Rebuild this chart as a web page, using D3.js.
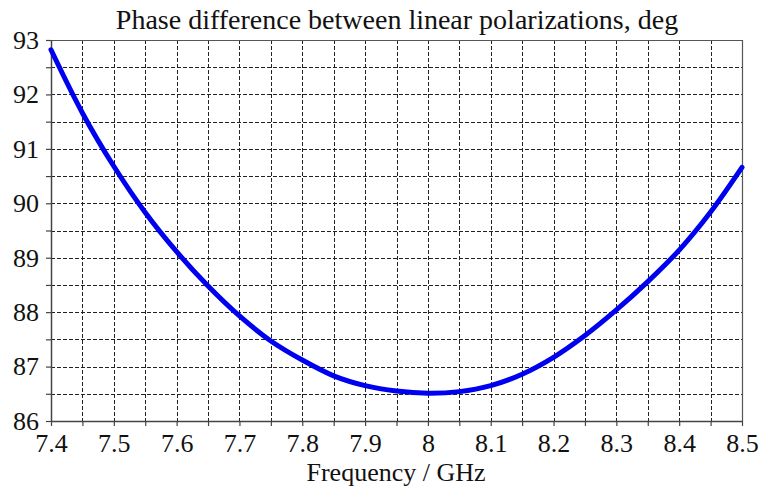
<!DOCTYPE html>
<html>
<head>
<meta charset="utf-8">
<script src="https://cdn.jsdelivr.net/npm/d3@7"></script>
<style>
  html, body { margin: 0; padding: 0; background: #fff; }
  svg { display: block; }
  svg text { font-family: 'Liberation Serif', 'Times New Roman', serif !important; fill: #111; }
</style>
</head>
<body>
<svg id="chart" width="759" height="490"></svg>
<script>
// ---- data ----
const frequency = [7.40, 7.45, 7.50, 7.55, 7.60, 7.65, 7.70, 7.75, 7.80, 7.85, 7.90, 7.95,
                   8.00, 8.05, 8.10, 8.15, 8.20, 8.25, 8.30, 8.35, 8.40, 8.45, 8.50];
const phaseDiff = [92.82, 91.66, 90.68, 89.83, 89.11, 88.48, 87.93, 87.47, 87.12, 86.83, 86.65, 86.55,
                   86.51, 86.54, 86.65, 86.86, 87.17, 87.57, 88.04, 88.56, 89.14, 89.84, 90.66];
const xTickLabels = [7.4, 7.5, 7.6, 7.7, 7.8, 7.9, 8.0, 8.1, 8.2, 8.3, 8.4, 8.5];
const xMinorTicks = [7.40, 7.45, 7.50, 7.55, 7.60, 7.65, 7.70, 7.75, 7.80, 7.85, 7.90, 7.95,
                     8.00, 8.05, 8.10, 8.15, 8.20, 8.25, 8.30, 8.35, 8.40, 8.45, 8.50];
const yTickLabels = [86, 87, 88, 89, 90, 91, 92, 93];
const yMinorTicks = [86, 86.5, 87, 87.5, 88, 88.5, 89, 89.5, 90, 90.5, 91, 91.5, 92, 92.5, 93];
const titleText = "Phase difference between linear polarizations, deg";
const xTitleText = "Frequency / GHz";

// ---- layout ----
const svg = d3.select("#chart");
const L = 51, R = 742, T = 40, B = 421;
const x = d3.scaleLinear().domain([7.4, 8.5]).range([L, R]);
const y = d3.scaleLinear().domain([86, 93]).range([B, T]);
const SERIF = "'Liberation Serif', 'Times New Roman', serif";

// grid
const grid = svg.append("g").attr("stroke", "#222").attr("stroke-width", 1)
  .attr("stroke-dasharray", "4,2").attr("shape-rendering", "crispEdges");
grid.selectAll("line.v").data(xMinorTicks.filter(d => d > 7.41 && d < 8.49)).join("line")
  .attr("x1", d => Math.round(x(d)) + 0.5).attr("x2", d => Math.round(x(d)) + 0.5)
  .attr("y1", T).attr("y2", B);
grid.selectAll("line.h").data(yMinorTicks.filter(d => d > 86.1 && d < 92.9)).join("line")
  .attr("y1", d => Math.round(y(d)) + 0.5).attr("y2", d => Math.round(y(d)) + 0.5)
  .attr("x1", L).attr("x2", R);

// frame (top/right)
svg.append("path")
  .attr("d", `M${L},${T + 0.5}H${R + 0.5}V${B}`)
  .attr("fill", "none").attr("stroke", "#555").attr("stroke-width", 1.2);

// axes
const xAxis = d3.axisBottom(x).tickValues(xMinorTicks).tickSize(5).tickSizeOuter(0)
  .tickFormat(d => xTickLabels.some(v => Math.abs(v - d) < 1e-6) ? (Math.abs(d - 8) < 1e-6 ? "8" : d3.format(".1f")(d)) : "");
const gx = svg.append("g").attr("transform", `translate(0,${B})`).call(xAxis)
  .attr("font-family", SERIF).attr("font-size", 26);
gx.select(".domain").attr("stroke", "#444").attr("stroke-width", 1.5);
gx.selectAll(".tick line").attr("stroke", "#444").attr("stroke-width", 1.2);
gx.selectAll(".tick text").attr("dy", null).attr("y", 31).attr("fill", "#111");

const yAxis = d3.axisLeft(y).tickValues(yMinorTicks).tickSize(5).tickSizeOuter(0)
  .tickFormat(d => yTickLabels.includes(d) ? String(d) : "");
const gy = svg.append("g").attr("transform", `translate(${L},0)`).call(yAxis)
  .attr("font-family", SERIF).attr("font-size", 26);
gy.select(".domain").attr("stroke", "#444").attr("stroke-width", 1.5);
gy.selectAll(".tick line").attr("stroke", "#444").attr("stroke-width", 1.2);
gy.selectAll(".tick text").attr("x", -12).attr("fill", "#111");

// curve
const line = d3.line().x((d, i) => x(frequency[i])).y(d => y(d)).curve(d3.curveCatmullRom.alpha(0.5));
svg.append("path").datum(phaseDiff)
  .attr("d", line).attr("fill", "none").attr("stroke", "#0000f0")
  .attr("stroke-width", 5).attr("stroke-linecap", "round").attr("stroke-linejoin", "round");

// titles
svg.append("text").attr("x", 397).attr("y", 29).attr("text-anchor", "middle")
  .attr("font-family", SERIF).attr("font-size", 28).text(titleText);
svg.append("text").attr("x", 396).attr("y", 481).attr("text-anchor", "middle")
  .attr("font-family", SERIF).attr("font-size", 26).text(xTitleText);
</script>
</body>
</html>
